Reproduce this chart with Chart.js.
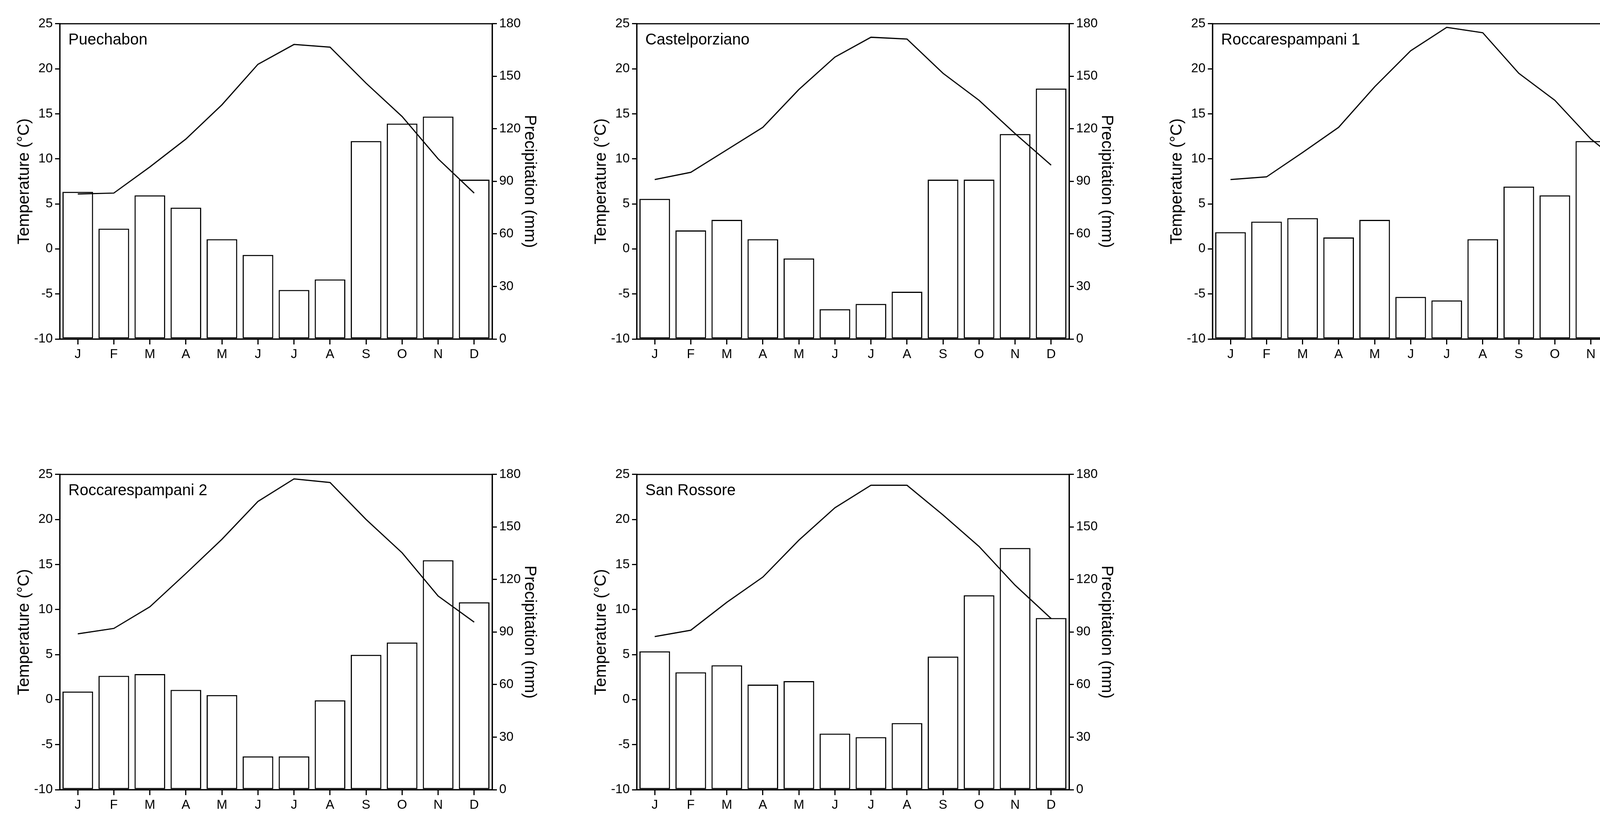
<!DOCTYPE html>
<html>
<head>
<meta charset="utf-8">
<script src="https://cdn.jsdelivr.net/npm/chart.js@4.4.0/dist/chart.umd.min.js"></script>
<style>
  body { margin: 0; background: #fff; width: 4361px; height: 2092px; position: relative; overflow: hidden; }
  .panel { position: absolute; }
</style>
</head>
<body>
<script>
// months and per-site data
const months = ['J', 'F', 'M', 'A', 'M', 'J', 'J', 'A', 'S', 'O', 'N', 'D'];
const siteNames = ['Puechabon', 'Castelporziano', 'Roccarespampani 1', 'Roccarespampani 2', 'San Rossore'];

// mean monthly temperature (°C)
const tempPuechabon = [6.1, 6.2, 9.1, 12.2, 16.0, 20.5, 22.7, 22.4, 18.4, 14.7, 10.0, 6.2];
const tempCastelporziano = [7.7, 8.5, 11.0, 13.5, 17.7, 21.3, 23.5, 23.3, 19.5, 16.5, 12.8, 9.3];
const tempRocca1 = [7.7, 8.0, 10.7, 13.5, 18.0, 22.0, 24.6, 24.0, 19.5, 16.5, 12.2, 9.0];
const tempRocca2 = [7.3, 7.9, 10.3, 14.0, 17.8, 22.0, 24.5, 24.1, 20.0, 16.3, 11.5, 8.6];
const tempSanRossore = [7.0, 7.7, 10.8, 13.6, 17.7, 21.3, 23.8, 23.8, 20.5, 17.0, 12.7, 9.0];

// monthly precipitation (mm)
const precPuechabon = [84, 63, 82, 75, 57, 48, 28, 34, 113, 123, 127, 91];
const precCastelporziano = [80, 62, 68, 57, 46, 17, 20, 27, 91, 91, 117, 143];
const precRocca1 = [61, 67, 69, 58, 68, 24, 22, 57, 87, 82, 113, 119];
const precRocca2 = [56, 65, 66, 57, 54, 19, 19, 51, 77, 84, 131, 107];
const precSanRossore = [79, 67, 71, 60, 62, 32, 30, 38, 76, 111, 138, 98];

const tempTicks = [-10, -5, 0, 5, 10, 15, 20, 25];
const precTicks = [0, 30, 60, 90, 120, 150, 180];

const temps = [tempPuechabon, tempCastelporziano, tempRocca1, tempRocca2, tempSanRossore];
const precs = [precPuechabon, precCastelporziano, precRocca1, precRocca2, precSanRossore];

// plot area placement (left, top) for each panel
const plotPos = [[153, 47], [1630, 47], [3104, 47], [153, 1201], [1630, 1201]];
const plotW = 1107, plotH = 821;
const leftW = 120, rightW = 125, bottomH = 75, topPad = 12;

Chart.defaults.font.family = 'Arial, "Liberation Sans", sans-serif';
Chart.defaults.color = '#000';

const framePlugin = {
    id: 'frame',
    afterDraw(chart, args, opts) {
        const { ctx, chartArea: a } = chart;
        ctx.save();
        ctx.strokeStyle = '#000';
        ctx.lineWidth = 3;
        ctx.strokeRect(a.left, a.top, a.right - a.left, a.bottom - a.top);
        ctx.font = '40px Arial, "Liberation Sans", sans-serif';
        ctx.fillStyle = '#000';
        ctx.textBaseline = 'top';
        ctx.fillText(opts.name, a.left + 22, a.top + 22);
        ctx.restore();
    }
};

siteNames.forEach((name, i) => {
    const [px, py] = plotPos[i];
    const div = document.createElement('div');
    div.className = 'panel';
    div.style.left = (px - leftW) + 'px';
    div.style.top = (py - topPad) + 'px';
    div.style.width = (plotW + leftW + rightW) + 'px';
    div.style.height = (plotH + topPad + bottomH) + 'px';
    const canvas = document.createElement('canvas');
    div.appendChild(canvas);
    document.body.appendChild(div);

    new Chart(canvas.getContext('2d'), {
        type: 'bar',
        data: {
            labels: months,
            datasets: [
                {
                    type: 'line',
                    data: temps[i],
                    yAxisID: 'y',
                    borderColor: '#000',
                    borderWidth: 3,
                    pointRadius: 0,
                    tension: 0,
                    order: 0
                },
                {
                    type: 'bar',
                    data: precs[i],
                    yAxisID: 'y1',
                    backgroundColor: '#fff',
                    borderColor: '#000',
                    borderWidth: 3,
                    borderSkipped: false,
                    categoryPercentage: 1,
                    barPercentage: 0.85,
                    order: 1
                }
            ]
        },
        options: {
            responsive: true,
            maintainAspectRatio: false,
            animation: false,
            layout: { padding: { top: topPad, left: 0, right: 0, bottom: 0 } },
            plugins: { legend: { display: false }, tooltip: { enabled: false }, frame: { name: name } },
            scales: {
                x: {
                    grid: { offset: false, drawOnChartArea: false, color: '#000', lineWidth: 3, tickLength: 14 },
                    border: { color: '#000', width: 3 },
                    ticks: { font: { size: 33 }, padding: 6 },
                    afterFit(s) { s.height = bottomH; }
                },
                y: {
                    position: 'left',
                    min: -10, max: 25,
                    afterBuildTicks(s) { s.ticks = tempTicks.map(v => ({ value: v })); },
                    grid: { drawOnChartArea: false, color: '#000', lineWidth: 3, tickLength: 12 },
                    border: { color: '#000', width: 3 },
                    ticks: { font: { size: 33 }, padding: 6 },
                    title: { display: true, text: 'Temperature (°C)', font: { size: 42 }, padding: 4 },
                    afterFit(s) { s.width = leftW; }
                },
                y1: {
                    position: 'right',
                    min: 0, max: 180,
                    afterBuildTicks(s) { s.ticks = precTicks.map(v => ({ value: v })); },
                    grid: { drawOnChartArea: false, color: '#000', lineWidth: 3, tickLength: 12 },
                    border: { color: '#000', width: 3 },
                    ticks: { font: { size: 33 }, padding: 6 },
                    title: { display: true, text: 'Precipitation (mm)', font: { size: 42 }, padding: 4 },
                    afterFit(s) { s.width = rightW; }
                }
            }
        },
        plugins: [framePlugin]
    });
});
</script>
</body>
</html>
